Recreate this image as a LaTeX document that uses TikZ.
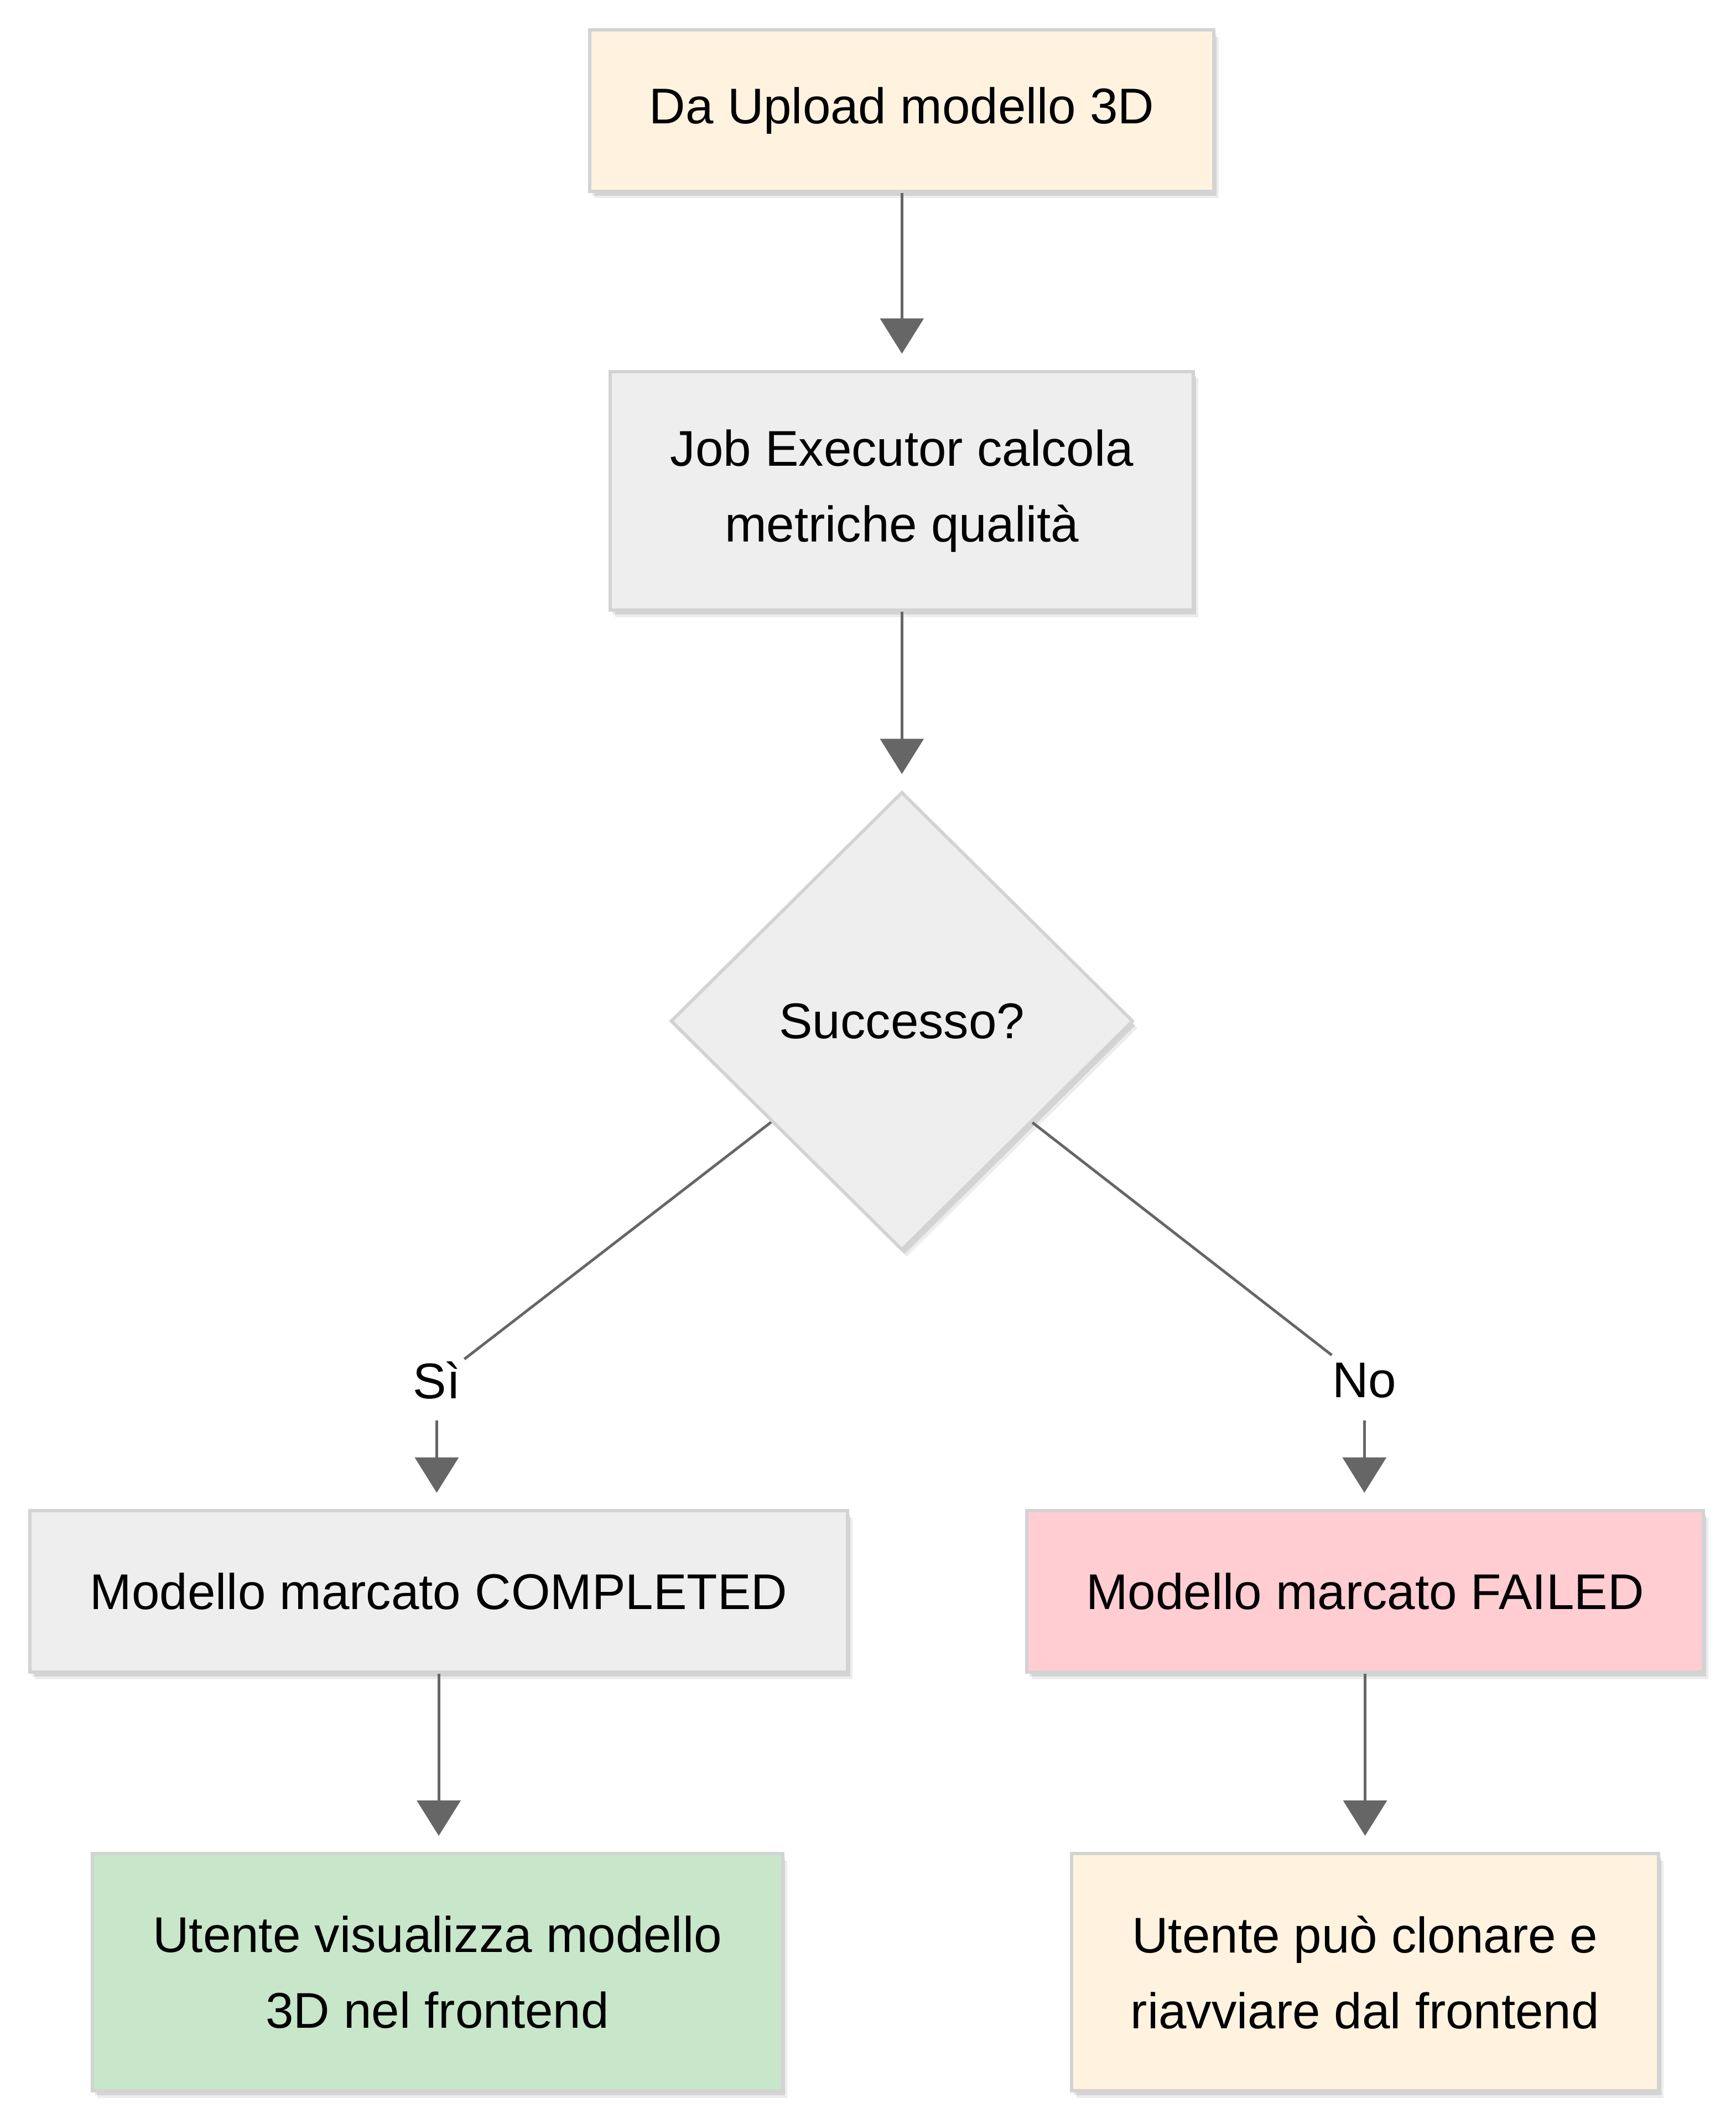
\documentclass[tikz,border=0pt]{standalone}
\usepackage{fontspec}
\setmainfont{Liberation Sans}
\usetikzlibrary{shapes.geometric,arrows.meta,shadows}
\definecolor{beige}{HTML}{FFF3E0}
\definecolor{grayfill}{HTML}{EEEEEE}
\definecolor{pinkfill}{HTML}{FFCDD2}
\definecolor{greenfill}{HTML}{C8E6C9}
\definecolor{bordercol}{HTML}{D3D3D3}
\definecolor{linecol}{HTML}{666666}
\tikzset{
  softshadow/.style={
    drop shadow={shadow xshift=1.8pt,shadow yshift=-2.6pt,opacity=0.07,fill=black},
    drop shadow={shadow xshift=1.0pt,shadow yshift=-1.6pt,opacity=0.10,fill=black}},
  box/.style={draw=bordercol,line width=1.2pt,rectangle,align=center,
    font=\fontsize{18.5pt}{28pt}\selectfont,inner sep=0pt,softshadow},
  decision/.style={draw=bordercol,line width=1.2pt,diamond,aspect=1,inner sep=0pt,
    font=\fontsize{18.5pt}{28pt}\selectfont,softshadow},
  lbl/.style={font=\fontsize{18.5pt}{28pt}\selectfont,inner sep=0pt,
    minimum height=29pt,minimum width=20pt},
  conn/.style={draw=linecol,line width=1pt},
  arrow/.style={conn,-{Triangle[length=13pt,width=16pt]},shorten >=6pt}
}
\begin{document}
\begin{tikzpicture}[x=0.5pt,y=-0.5pt]
\useasboundingbox[fill=white] (0,0) rectangle (1280,1566.35);
\node[box,fill=beige,minimum width=230pt,minimum height=59.5pt] (start) at (665,81.5) {Da Upload modello 3D};
\node[box,fill=grayfill,minimum width=215pt,minimum height=88pt] (job) at (665,362) {Job Executor calcola\\metriche qualità};
\node[decision,fill=grayfill,minimum width=170.5pt,minimum height=169pt] (dec) at (665,753) {Successo?};
\node[lbl] (si) at (322,1018) {Sì};
\node[lbl] (no) at (1006,1018) {No};
\node[box,fill=grayfill,minimum width=301.5pt,minimum height=59.5pt] (comp) at (323.5,1173.5) {Modello marcato COMPLETED};
\node[box,fill=pinkfill,minimum width=249.5pt,minimum height=59.5pt] (fail) at (1006.5,1173.5) {Modello marcato FAILED};
\node[box,fill=greenfill,minimum width=254.5pt,minimum height=87.5pt] (view) at (322.5,1454.5) {Utente visualizza modello\\3D nel frontend};
\node[box,fill=beige,minimum width=216.5pt,minimum height=87.5pt] (retry) at (1006.5,1454.5) {Utente può clonare e\\riavviare dal frontend};
\draw[arrow] (start) -- (job);
\draw[arrow] (job) -- (dec);
\draw[conn] (dec) -- (si);
\draw[conn] (dec) -- (no);
\draw[arrow] (si.south) -- (si.south |- comp.north);
\draw[arrow] (no.south) -- (no.south |- fail.north);
\draw[arrow] (comp) -- (comp.south |- view.north);
\draw[arrow] (fail) -- (fail.south |- retry.north);
\end{tikzpicture}
\end{document}
